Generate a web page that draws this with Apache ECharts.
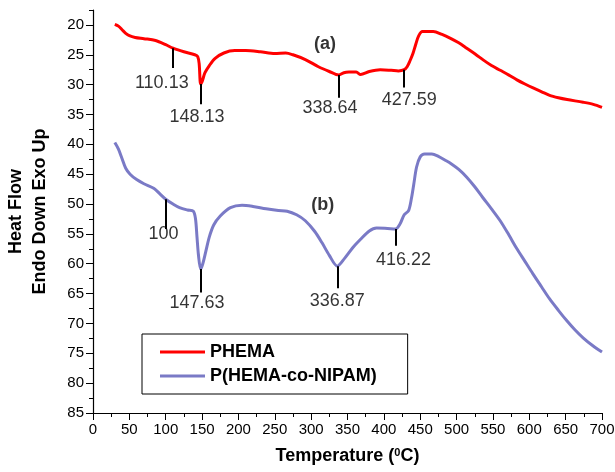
<!DOCTYPE html>
<html lang="en">
<head>
    <meta charset="UTF-8">
    <title>DSC</title>
    <style>
        body{ margin:0; background:#fff; }
        #main{ width:615px; height:472px; }
    </style>
</head>
<body>
<div id="main"></div>
<script src="https://cdn.jsdelivr.net/npm/echarts@6/dist/echarts.min.js"></script>
<script>
    // PHEMA curve (temperature, heat flow)
    const phemaTemp = [30,35,40,45,50,58,70,86,100,110,125,140,144,146,148,150,154,160,168,180,195,210,230,250,265,275,292,310,325,338,345,352,362,368,380,395,410,420,428,432,436,440,444,448,453,468,480,491,503,514,526,537,548,560,572,583,594,606,617,628,640,652,674,688,700];
    const phemaHeat = [19.9,20.2,20.8,21.4,21.8,22.1,22.3,22.6,23.3,23.9,24.5,25.0,25.3,26.5,29.9,29.5,28.0,26.8,25.6,24.7,24.3,24.3,24.5,24.8,24.7,25.0,25.8,27.0,27.8,28.4,28.0,27.9,27.9,28.3,27.8,27.5,27.6,27.7,27.5,27.0,26.0,24.8,23.2,21.8,21.1,21.1,21.6,22.2,23.0,23.9,24.9,25.9,26.8,27.6,28.4,29.2,29.9,30.6,31.2,31.8,32.2,32.5,32.95,33.3,33.8];

    // P(HEMA-co-NIPAM) curve
    const copolyTemp = [30,35,40,45,51,60,70,84,92,100,110,119,130,138,141,143,145,148,151,155,160,166,175,189,205,220,238,255,267,280,292,305,315,325,336,346,358,368,380,390,405,416,422,428,434,438,441,445,450,456,466,475,485,492,503,514,525,536,548,560,572,583,594,605,617,628,640,652,663,674,687,700];
    const copolyHeat = [39.7,40.8,42.4,44.0,45.0,45.9,46.6,47.4,48.3,49.2,50.0,50.6,51.0,51.2,52.5,55.5,58.5,60.9,60.0,58.0,55.5,53.5,52.0,50.6,50.2,50.4,50.8,51.1,51.2,51.8,52.8,54.6,56.5,58.6,60.4,59.1,57.2,55.9,54.5,54.0,54.1,54.2,53.4,51.8,51.1,49.0,46.8,43.8,42.1,41.6,41.6,42.0,42.7,43.2,44.2,45.5,47.1,48.9,50.8,52.8,55.2,57.5,59.6,61.7,63.9,65.9,67.8,69.6,71.1,72.4,73.7,74.8];

    // peak markers: [temperature, top, bottom]
    const phemaPeaks = [[110.13,23.9,27.2],[148.13,29.9,33.3],[338.64,28.4,32.2],[427.59,27.5,30.5]];
    const copolyPeaks = [[100,49.2,54.2],[147.63,60.9,64.8],[336.87,60.4,64.1],[416.22,54.2,57.0]];
    // peak labels: [x, y, text]
    const peakLabels = [[94.6,29.7,'110.13'],[143,35.5,'148.13'],[326,33.9,'338.64'],[435,32.5,'427.59'],
        [97,55.1,'100'],[143,66.6,'147.63'],[336,66.3,'336.87'],[427,59.4,'416.22']];
    const panelLabels = [[319,23.2,'(a)'],[316,50.1,'(b)']];

    const xTicks = [0,50,100,150,200,250,300,350,400,450,500,550,600,650,700];
    const yTicks = [20,25,30,35,40,45,50,55,60,65,70,75,80,85];
    const yMinorTicks = [17.5,22.5,27.5,32.5,37.5,42.5,47.5,52.5,57.5,62.5,67.5,72.5,77.5,82.5];

    const font = 'Liberation Sans, Arial, sans-serif';
    const zip = (a, b) => a.map((v, i) => [v, b[i]]);
    const peakLines = p => p.map(d => [{coord: [d[0], d[1]]}, {coord: [d[0], d[2]]}]);

    const myChart = echarts.init(document.getElementById('main'), null, {renderer: 'canvas'});

    const option = {
        animation: false,
        backgroundColor: '#fff',
        grid: {left: 93, right: 13, top: 10, bottom: 59, containLabel: false, outerBoundsMode: 'none'},
        legend: {
            data: ['PHEMA', 'P(HEMA-co-NIPAM)'],
            orient: 'vertical',
            left: 142, top: 334,
            padding: [9, 31, 9, 18],
            itemGap: 6,
            itemWidth: 45, itemHeight: 3,
            icon: 'rect',
            borderColor: '#000', borderWidth: 1,
            textStyle: {fontFamily: font, fontWeight: 'bold', fontSize: 18, color: '#000'}
        },
        xAxis: {
            type: 'value', min: 0, max: 700, interval: 50,
            name: '{t|Temperature (}{s|0}{t|C)}',
            nameLocation: 'middle', nameGap: 34,
            nameTextStyle: {rich: {
                t: {fontFamily: font, fontWeight: 'bold', fontSize: 18, color: '#000'},
                s: {fontFamily: font, fontWeight: 'bold', fontSize: 11, color: '#000', verticalAlign: 'top', padding: [0, 0, 8, 0]}
            }},
            axisLine: {onZero: false, lineStyle: {color: '#000', width: 1.2}},
            axisTick: {length: 7, lineStyle: {color: '#000'}},
            minorTick: {show: true, splitNumber: 2, length: 4, lineStyle: {color: '#000'}},
            axisLabel: {fontFamily: font, fontSize: 15, color: '#000', margin: 9},
            splitLine: {show: false}
        },
        yAxis: [{
            type: 'value', inverse: true, min: 17.5, max: 85,
            name: 'Heat Flow\nEndo Down Exo Up',
            nameLocation: 'middle', nameGap: 41, nameRotate: 90,
            nameTextStyle: {fontFamily: font, fontWeight: 'bold', fontSize: 18, color: '#000', lineHeight: 24},
            axisLine: {lineStyle: {color: '#000', width: 1.2}},
            axisTick: {length: 7, customValues: yTicks, lineStyle: {color: '#000'}},
            axisLabel: {customValues: yTicks, fontFamily: font, fontSize: 15, color: '#000', margin: 9},
            splitLine: {show: false}
        }, {
            type: 'value', inverse: true, min: 17.5, max: 85, position: 'left',
            axisLine: {show: false},
            axisTick: {length: 4, customValues: yMinorTicks, lineStyle: {color: '#000'}},
            axisLabel: {show: false},
            splitLine: {show: false}
        }],
        series: [{
            name: 'PHEMA', type: 'line',
            data: zip(phemaTemp, phemaHeat),
            symbol: 'none', smooth: 0.3,
            lineStyle: {color: '#ff0000', width: 3},
            itemStyle: {color: '#ff0000'},
            markLine: {silent: true, symbol: 'none', label: {show: false},
                lineStyle: {color: '#000', width: 2, type: 'solid'},
                data: peakLines(phemaPeaks)}
        }, {
            name: 'P(HEMA-co-NIPAM)', type: 'line',
            data: zip(copolyTemp, copolyHeat),
            symbol: 'none', smooth: 0.3,
            lineStyle: {color: '#7a7ac6', width: 3},
            itemStyle: {color: '#7a7ac6'},
            markLine: {silent: true, symbol: 'none', label: {show: false},
                lineStyle: {color: '#000', width: 2, type: 'solid'},
                data: peakLines(copolyPeaks)}
        }, {
            name: 'peaks', type: 'scatter', symbolSize: 0, silent: true,
            data: peakLabels,
            label: {show: true, position: 'inside', formatter: p => p.value[2],
                fontFamily: font, fontSize: 18, color: '#000'}
        }, {
            name: 'panels', type: 'scatter', symbolSize: 0, silent: true,
            data: panelLabels,
            label: {show: true, position: 'inside', formatter: p => p.value[2],
                fontFamily: font, fontWeight: 'bold', fontSize: 18, color: '#000'}
        }]
    };

    myChart.setOption(option);
</script>
</body>
</html>
